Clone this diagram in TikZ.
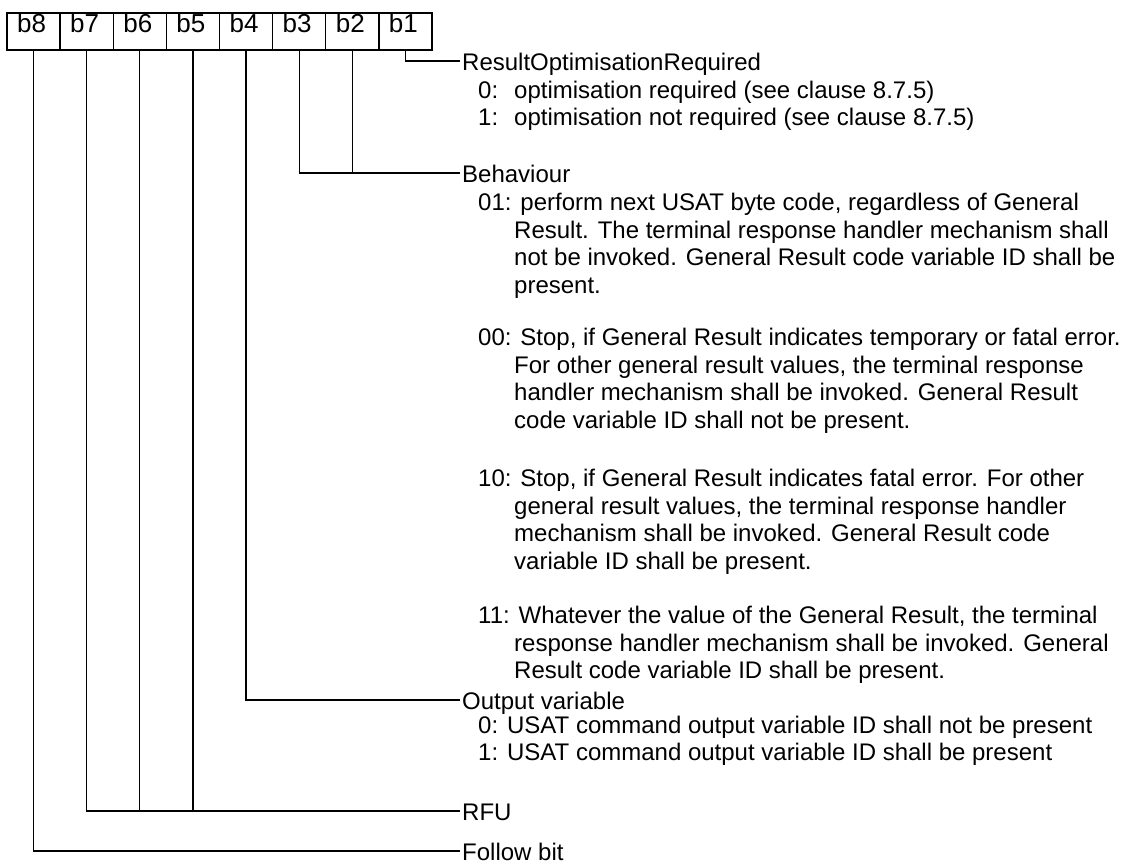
\documentclass[tikz,border=0pt]{standalone}
\usepackage{fontspec}
\setmainfont{Liberation Sans}
\begin{document}
\begin{tikzpicture}[x=1pt,y=-1pt,
  wire/.style={line width=1.3pt},
  bitbox/.style={draw, line width=1.3pt, minimum width=53.125pt, minimum height=37pt, inner sep=0pt},
  bitlabel/.style={anchor=base, inner sep=0pt, font=\fontsize{26}{30}\selectfont},
  head/.style={anchor=west, inner sep=0pt, text height=19pt, text depth=0pt, font=\fontsize{24}{28}\selectfont},
  txt/.style={anchor=base west, inner sep=0pt, font=\fontsize{24}{28}\selectfont}]
\useasboundingbox (0,0) rectangle (1124,864);
% bit boxes
\node[bitbox] (b8) at (33.56,31.5) {};
\node[bitbox] (b7) at (86.69,31.5) {};
\node[bitbox] (b6) at (139.81,31.5) {};
\node[bitbox] (b5) at (192.94,31.5) {};
\node[bitbox] (b4) at (246.06,31.5) {};
\node[bitbox] (b3) at (299.19,31.5) {};
\node[bitbox] (b2) at (352.31,31.5) {};
\node[bitbox] (b1) at (405.44,31.5) {};
\node[bitlabel] (l8) at ([xshift=-2pt,yshift=-20.5pt]b8.north) {b8};
\node[bitlabel] (l7) at ([xshift=-2pt,yshift=-20.5pt]b7.north) {b7};
\node[bitlabel] (l6) at ([xshift=-2pt,yshift=-20.5pt]b6.north) {b6};
\node[bitlabel] (l5) at ([xshift=-2pt,yshift=-20.5pt]b5.north) {b5};
\node[bitlabel] (l4) at ([xshift=-2pt,yshift=-20.5pt]b4.north) {b4};
\node[bitlabel] (l3) at ([xshift=-2pt,yshift=-20.5pt]b3.north) {b3};
\node[bitlabel] (l2) at ([xshift=-2pt,yshift=-20.5pt]b2.north) {b2};
\node[bitlabel] (l1) at ([xshift=-2pt,yshift=-20.5pt]b1.north) {b1};
% headings
\node[head] (ror) at (462,61) {ResultOptimisationRequired};
\node[head] (beh) at (462,173) {Behaviour};
\node[head] (outv) at (462,700) {Output variable};
\node[head] (rfu) at (462,811) {RFU};
\node[head] (fol) at (462,851) {Follow bit};
% ResultOptimisationRequired values
\node[txt] (r0k) at (478,98.5) {0:};
\node[txt] (r0) at (514,98.5) {optimisation required (see clause 8.7.5)};
\node[txt] (r1k) at (478,125.5) {1:};
\node[txt] (r1) at (514,125.5) {optimisation not required (see clause 8.7.5)};
% Behaviour values
\node[txt] (a1) at (478,210.5) {01: perform next USAT byte code, regardless of General};
\node[txt] (a2) at (514,238.1) {Result. The terminal response handler mechanism shall};
\node[txt] (a3) at (514,265.7) {not be invoked. General Result code variable ID shall be};
\node[txt] (a4) at (514,293.3) {present.};
\node[txt] (c1) at (478,345.5) {00: Stop, if General Result indicates temporary or fatal error.};
\node[txt] (c2) at (514,373.1) {For other general result values, the terminal response};
\node[txt] (c3) at (514,400.7) {handler mechanism shall be invoked. General Result};
\node[txt] (c4) at (514,428.3) {code variable ID shall not be present.};
\node[txt] (d1) at (478,486.5) {10: Stop, if General Result indicates fatal error. For other};
\node[txt] (d2) at (514,514.1) {general result values, the terminal response handler};
\node[txt] (d3) at (514,541.7) {mechanism shall be invoked. General Result code};
\node[txt] (d4) at (514,569.3) {variable ID shall be present.};
\node[txt] (e1) at (478,623.5) {11: Whatever the value of the General Result, the terminal};
\node[txt] (e2) at (514,651.1) {response handler mechanism shall be invoked. General};
\node[txt] (e3) at (514,678.7) {Result code variable ID shall be present.};
% Output variable values
\node[txt] (o0) at (478,733) {0: USAT command output variable ID shall not be present};
\node[txt] (o1) at (478,760) {1: USAT command output variable ID shall be present};
% connectors
\draw[wire] (b1.south) |- ([xshift=-2pt]ror.west);
\draw[wire] (b3.south) |- ([xshift=-2pt]beh.west);
\draw[wire] (b2.south) -- (b2.south |- beh.west);
\draw[wire] (b4.south) |- ([xshift=-2pt]outv.west);
\draw[wire] (b7.south) |- ([xshift=-2pt]rfu.west);
\draw[wire] (b6.south) -- (b6.south |- rfu.west);
\draw[wire] (b5.south) -- (b5.south |- rfu.west);
\draw[wire] (b8.south) |- ([xshift=-2pt]fol.west);
\end{tikzpicture}
\end{document}
